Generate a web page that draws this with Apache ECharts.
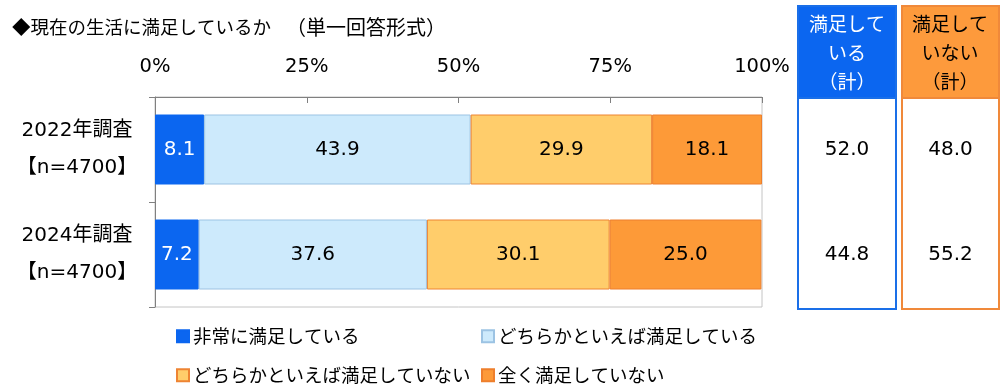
<!DOCTYPE html>
<html>
<head>
<meta charset="utf-8">
<script src="https://cdn.jsdelivr.net/npm/echarts@6/dist/echarts.min.js"></script>
<style>
html,body{margin:0;padding:0;background:#fff;}
#chart{width:1000px;height:390px;}
</style>
</head>
<body>
<div id="chart"></div>
<script>
var titleMain = '◆現在の生活に満足しているか';
var titleSub = '（単一回答形式）';
var categories = ['2022年調査\n【n=4700】', '2024年調査\n【n=4700】'];
var seriesNames = ['非常に満足している', 'どちらかといえば満足している', 'どちらかといえば満足していない', '全く満足していない'];
var verySatisfied = [8.1, 7.2];
var somewhatSatisfied = [43.9, 37.6];
var somewhatUnsatisfied = [29.9, 30.1];
var notSatisfied = [18.1, 25.0];
var satisfiedTotal = [52.0, 44.8];
var unsatisfiedTotal = [48.0, 55.2];
var xTicks = [0, 25, 50, 75, 100];
var headerSatisfied = '満足して\nいる\n（計）';
var headerUnsatisfied = '満足して\nいない\n（計）';

var NUMF = '"DejaVu Sans", "Noto Sans CJK JP", sans-serif';
var JPF = '"Noto Sans CJK JP", "DejaVu Sans", sans-serif';

var fills = ['#0b66f0', '#cdeafc', '#ffcd6b', '#fd9a38'];
var borders = ['#0b66f0', '#9cc3e3', '#ee8433', '#ee7f2c'];
var labelColors = ['#ffffff', '#000000', '#000000', '#000000'];
var seriesData = [verySatisfied, somewhatSatisfied, somewhatUnsatisfied, notSatisfied];

var chart = echarts.init(document.getElementById('chart'), null, {renderer: 'canvas'});

var series = seriesData.map(function (d, i) {
  return {
    name: seriesNames[i],
    type: 'bar',
    stack: 'total',
    xAxisIndex: 0, yAxisIndex: 0,
    barWidth: 70,
    data: d,
    itemStyle: {color: fills[i], borderColor: borders[i], borderWidth: 1},
    label: {
      show: true, position: 'inside', color: labelColors[i],
      fontFamily: NUMF, fontSize: 20,
      formatter: function (p) { return p.value.toFixed(1); }
    },
    emphasis: {disabled: true},
    silent: true
  };
});

function totalSeries(data, gi) {
  return {
    type: 'bar', xAxisIndex: gi, yAxisIndex: gi,
    barWidth: 70,
    data: data.map(function () { return 1; }),
    itemStyle: {color: 'rgba(0,0,0,0)'},
    label: {
      show: true, position: 'inside', color: '#000', fontFamily: NUMF, fontSize: 20,
      formatter: function (p) { return data[p.dataIndex].toFixed(1); }
    },
    silent: true
  };
}
series.push(totalSeries(satisfiedTotal, 1));
series.push(totalSeries(unsatisfiedTotal, 2));

function legendAt(name, left, top) {
  return {
    data: [name], left: left, top: top, orient: 'horizontal',
    icon: 'rect', itemWidth: 12, itemHeight: 12, itemGap: 4,
    textStyle: {fontFamily: JPF, fontSize: 18.5, color: '#000', padding: [0, 0, 0, -1]},
    selectedMode: false, padding: 0
  };
}

function hiddenAxisX(gi) {
  return {gridIndex: gi, type: 'value', min: 0, max: 1, show: false};
}
function hiddenAxisY(gi) {
  return {gridIndex: gi, type: 'category', data: categories, inverse: true, show: false};
}

chart.setOption({
  animation: false,
  backgroundColor: '#ffffff',
  title: {
    text: '{a|' + titleMain + '}{s|　}{b|' + titleSub + '}', left: 7, top: 12,
    textStyle: {
      fontFamily: JPF, fontSize: 18.5, fontWeight: 'normal', color: '#000',
      rich: {
        a: {fontFamily: JPF, fontSize: 18.5, color: '#000'},
        s: {fontFamily: JPF, fontSize: 15, color: '#000'},
        b: {fontFamily: JPF, fontSize: 20, color: '#000'}
      }
    }
  },
  legend: [
    legendAt(seriesNames[0], 176, 327),
    legendAt(seriesNames[1], 481, 327),
    legendAt(seriesNames[2], 176, 366),
    legendAt(seriesNames[3], 481, 366)
  ],
  grid: [
    {left: 155, right: 238, top: 97, bottom: 83, show: true, borderColor: '#c4c4c4', borderWidth: 1, containLabel: false},
    {left: 798, width: 98, top: 97, height: 210},
    {left: 902, width: 97, top: 97, height: 210}
  ],
  xAxis: [
    {
      gridIndex: 0, type: 'value', position: 'top', min: 0, max: 100, interval: 25,
      axisLine: {show: true, lineStyle: {color: '#808080', width: 1}},
      axisTick: {show: true, inside: true, length: 6, lineStyle: {color: '#808080'}},
      splitLine: {show: false},
      axisLabel: {
        fontFamily: NUMF, fontSize: 19.5, color: '#000', margin: 20,
        formatter: function (v) { return xTicks.indexOf(v) >= 0 ? v + '%' : ''; }
      }
    },
    hiddenAxisX(1), hiddenAxisX(2)
  ],
  yAxis: [
    {
      gridIndex: 0, type: 'category', data: categories, inverse: true,
      axisLine: {show: true, lineStyle: {color: '#808080', width: 1}},
      axisTick: {show: true, length: 6, lineStyle: {color: '#808080'}},
      axisLabel: {
        fontFamily: NUMF, fontSize: 20, color: '#000', lineHeight: 37,
        align: 'center', margin: 78
      }
    },
    hiddenAxisY(1), hiddenAxisY(2)
  ],
  series: series,
  graphic: [
    {type: 'rect', shape: {x: 798, y: 6, width: 98, height: 303}, style: {fill: '#fff', stroke: '#1a6fe8', lineWidth: 2}, z: -10},
    {type: 'rect', shape: {x: 798, y: 6, width: 98, height: 92}, style: {fill: '#0b66f0', stroke: '#1a6fe8', lineWidth: 2}, z: -9},
    {type: 'text', x: 847, y: 53, style: {text: headerSatisfied, fill: '#fff', font: '19px "Noto Sans CJK JP"', textAlign: 'center', textVerticalAlign: 'middle', lineHeight: 29}, z: 10},
    {type: 'rect', shape: {x: 902, y: 6, width: 97, height: 303}, style: {fill: '#fff', stroke: '#f0893a', lineWidth: 2}, z: -10},
    {type: 'rect', shape: {x: 902, y: 6, width: 97, height: 92}, style: {fill: '#fd9a3c', stroke: '#f0893a', lineWidth: 2}, z: -9},
    {type: 'text', x: 950, y: 53, style: {text: headerUnsatisfied, fill: '#000', font: '19px "Noto Sans CJK JP"', textAlign: 'center', textVerticalAlign: 'middle', lineHeight: 29}, z: 10}
  ]
});
</script>
</body>
</html>
